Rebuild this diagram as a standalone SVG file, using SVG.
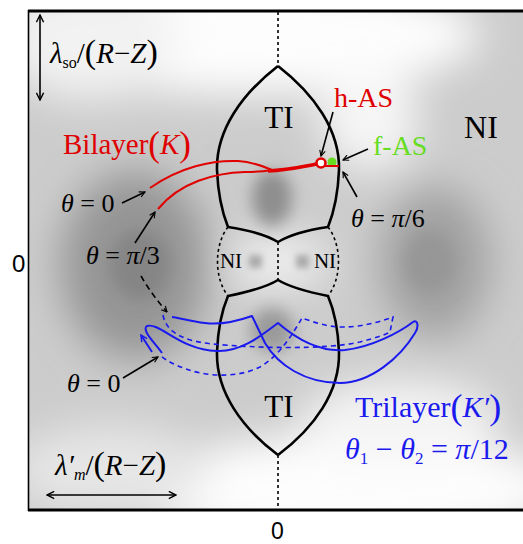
<svg xmlns="http://www.w3.org/2000/svg" width="523" height="544" viewBox="0 0 523 544">
<style>
.ser{font-family:"Liberation Serif","Times New Roman",serif;}
.sans{font-family:"Liberation Sans",Arial,sans-serif;}
.it{font-style:italic;}
.bd{fill:none;stroke:#000;stroke-width:2.6;stroke-linejoin:round;}
.dot{fill:none;stroke:#000;stroke-width:1.6;stroke-dasharray:3 3;}
.arr{fill:none;stroke:#000;stroke-width:1.6;marker-end:url(#ah);}
.red{fill:none;stroke:#e00000;stroke-width:2;}
.blue{fill:none;stroke:#1a1aee;stroke-width:2;stroke-linejoin:round;}
.bdash{fill:none;stroke:#1a1aee;stroke-width:1.6;stroke-dasharray:5 4;}
</style>
<defs>
<marker id="ah" viewBox="0 0 10 10" refX="9" refY="5" markerWidth="7" markerHeight="7" orient="auto" markerUnits="userSpaceOnUse">
<path d="M1,1 L9,5 L1,9" fill="none" stroke="#000" stroke-width="1.6"/>
</marker>
<marker id="ahs" viewBox="0 0 10 10" refX="9" refY="5" markerWidth="9" markerHeight="9" orient="auto-start-reverse" markerUnits="userSpaceOnUse">
<path d="M1,1 L9,5 L1,9" fill="none" stroke="#000" stroke-width="1.6"/>
</marker>
<marker id="ahb" viewBox="0 0 10 10" refX="9" refY="5" markerWidth="8" markerHeight="8" orient="auto" markerUnits="userSpaceOnUse">
<path d="M1,1 L9,5 L1,9" fill="none" stroke="#1a1aee" stroke-width="1.8"/>
</marker>
<filter id="bl" x="-60%" y="-60%" width="220%" height="220%"><feGaussianBlur stdDeviation="20"/></filter>
<filter id="bs" x="-60%" y="-60%" width="220%" height="220%"><feGaussianBlur stdDeviation="8"/></filter>
<filter id="bx" x="-60%" y="-60%" width="220%" height="220%"><feGaussianBlur stdDeviation="3"/></filter>
<clipPath id="cp"><rect x="28" y="10" width="495" height="500"/></clipPath>
</defs>

<g id="background" clip-path="url(#cp)">
<rect x="28" y="10" width="495" height="500" fill="#cccccc"/>
<g filter="url(#bl)">
<ellipse cx="240" cy="35" rx="240" ry="60" fill="#fdfdfd"/>
<ellipse cx="90" cy="40" rx="90" ry="60" fill="#f2f2f2"/>
<ellipse cx="350" cy="490" rx="220" ry="55" fill="#fdfdfd"/>
<ellipse cx="110" cy="470" rx="100" ry="45" fill="#e6e6e6"/>
<ellipse cx="370" cy="120" rx="50" ry="50" fill="#f6f6f6"/>
<ellipse cx="400" cy="420" rx="100" ry="40" fill="#f4f4f4"/>
<ellipse cx="135" cy="265" rx="75" ry="95" fill="#959595"/>
<ellipse cx="435" cy="262" rx="55" ry="75" fill="#a0a0a0"/>
<ellipse cx="278" cy="262" rx="50" ry="25" fill="#f2f2f2"/>
</g>
<g filter="url(#bs)">
<ellipse cx="140" cy="265" rx="30" ry="35" fill="#858585"/>
<ellipse cx="430" cy="262" rx="25" ry="30" fill="#969696"/>
<ellipse cx="272" cy="198" rx="20" ry="28" fill="#8e8e8e"/>
<ellipse cx="272" cy="330" rx="22" ry="22" fill="#9a9a9a"/>
</g>
<g filter="url(#bx)">
<rect x="249" y="255" width="13" height="13" fill="#aaa"/>
<rect x="296" y="255" width="13" height="13" fill="#aaa"/>
</g>
</g>

<g id="frame">
<line x1="28" y1="11" x2="523" y2="11" stroke="#000" stroke-width="3"/>
<line x1="28" y1="510" x2="523" y2="510" stroke="#000" stroke-width="3"/>
<line x1="28.5" y1="10" x2="28.5" y2="511" stroke="#000" stroke-width="1.6"/>
</g>

<g id="axes">
<line x1="278" y1="12" x2="278" y2="66" class="dot"/>
<line x1="278" y1="455" x2="278" y2="509" class="dot"/>
<text class="sans" x="12" y="272" font-size="24">0</text>
<text class="sans" x="271" y="539" font-size="23">0</text>
</g>

<g id="scale-bars">
<line x1="40" y1="15" x2="40" y2="100" stroke="#000" stroke-width="1.6" marker-start="url(#ahs)" marker-end="url(#ahs)"/>
<text class="ser" x="50" y="63" font-size="29"><tspan class="it">λ</tspan><tspan font-size="16" dy="5">so</tspan><tspan dy="-5">/</tspan><tspan font-size="34">(</tspan><tspan class="it">R</tspan>−<tspan class="it">Z</tspan><tspan font-size="34">)</tspan></text>
<line x1="47" y1="495" x2="176" y2="495" stroke="#000" stroke-width="1.6" marker-start="url(#ahs)" marker-end="url(#ahs)"/>
<text class="ser" x="55" y="475" font-size="29"><tspan class="it">λ′</tspan><tspan class="it" font-size="16" dy="5">m</tspan><tspan dy="-5">/</tspan><tspan font-size="34">(</tspan><tspan class="it">R</tspan>−<tspan class="it">Z</tspan><tspan font-size="34">)</tspan></text>
</g>

<g id="TI-upper">
<path class="bd" d="M278,66 C242,94 216,130 217,170 C218,195 222,212 228,227"/>
<path class="bd" d="M278,66 C314,94 340,130 339,170 C338,195 334,212 328,227"/>
<path class="bd" d="M228,227 C248,230 265,234 278,242 C291,234 308,230 328,227"/>
<text class="ser" x="279" y="128" font-size="31" text-anchor="middle">TI</text>
</g>

<g id="TI-lower">
<path class="bd" d="M278,455 C242,428 216,392 217,352 C218,327 222,310 228,296"/>
<path class="bd" d="M278,455 C314,428 340,392 339,352 C338,327 334,310 328,296"/>
<path class="bd" d="M228,296 C248,292 265,288 278,280 C291,288 308,292 328,296"/>
<text class="ser" x="279" y="417" font-size="31" text-anchor="middle">TI</text>
</g>

<g id="NI-left">
<path class="dot" d="M228,227 C214,245 214,278 228,296"/>
<text class="ser" x="231" y="268" font-size="21" text-anchor="middle">NI</text>
</g>
<g id="NI-right">
<path class="dot" d="M328,227 C342,245 342,278 328,296"/>
<line class="dot" x1="278" y1="242" x2="278" y2="280"/>
<text class="ser" x="325" y="268" font-size="21" text-anchor="middle">NI</text>
</g>
<g id="NI-outer">
<text class="ser" x="481" y="138" font-size="32" text-anchor="middle">NI</text>
</g>

<g id="bilayer">
<path class="red" d="M150,188 C180,167 212,160 238,161 C255,162 264,167 272,170"/>
<path class="red" d="M158,209 C180,182 215,173 245,172 C258,172 266,171 272,170"/>
<path fill="none" stroke="#e00000" stroke-width="3.4" d="M268,171 C290,170 305,166 317,164"/>
<circle cx="332" cy="162" r="4.5" fill="#66dd22"/>
<line x1="325" y1="166" x2="339" y2="166" stroke="#e00000" stroke-width="2"/>
<circle cx="321" cy="163" r="4.5" fill="#fff" stroke="#e00000" stroke-width="2.6"/>
<text class="ser" x="63" y="154" font-size="29" fill="#e00000">Bilayer<tspan font-size="35" dy="2">(</tspan><tspan class="it" dy="-2">K</tspan><tspan font-size="35" dy="2">)</tspan></text>
<text class="ser" x="334" y="107" font-size="28" fill="#e00000">h-AS</text>
<text class="ser" x="373" y="155" font-size="28" fill="#66dd22">f-AS</text>
</g>

<g id="trilayer">
<path class="blue" d="M162,353 C155,343 141,330 147,326 C160,322 180,350 217,351 C242,352 262,335 278,323 C300,342 322,352 345,350 C372,347 400,332 413,322 C418,319 419,327 415,333 C400,358 370,383 340,383 C305,383 278,365 265,343 L252,316 C235,322 220,325 205,323 C190,321 180,318 172,317"/>
<path class="bdash" d="M163,315 C166,333 185,341 212,344 C255,348 325,350 360,342 C375,338 385,335 390,332 L393,317 C372,325 348,329 330,326 C318,324 308,320 302,318 C292,335 280,355 260,367 C238,378 208,377 186,369 C175,365 167,361 161,356"/>
<line x1="152" y1="352" x2="141" y2="335" stroke="#1a1aee" stroke-width="2" marker-end="url(#ahb)"/>
<text class="ser" x="355" y="417" font-size="30" fill="#1a1aee">Trilayer<tspan font-size="36" dy="2">(</tspan><tspan class="it" dy="-2">K′</tspan><tspan font-size="36" dy="2">)</tspan></text>
<text class="ser" x="345" y="459" font-size="30" fill="#1a1aee"><tspan class="it">θ</tspan><tspan font-size="17" dy="5">1</tspan><tspan dy="-5"> − </tspan><tspan class="it">θ</tspan><tspan font-size="17" dy="5">2</tspan><tspan dy="-5"> = </tspan><tspan class="it">π</tspan>/12</text>
</g>

<g id="connectors">
<line class="arr" x1="122" y1="203" x2="145" y2="192"/>
<line class="arr" x1="135" y1="243" x2="155" y2="212"/>
<path class="arr" d="M141,276 Q152,295 167,312" stroke-dasharray="6 4"/>
<line class="arr" x1="123" y1="378" x2="158" y2="357"/>
<line class="arr" x1="333" y1="112" x2="321" y2="156"/>
<line class="arr" x1="368" y1="149" x2="343" y2="160"/>
<line class="arr" x1="357" y1="197" x2="343" y2="172"/>
</g>

<g id="labels">
<text class="ser" x="61" y="212" font-size="26"><tspan class="it">θ</tspan> = 0</text>
<text class="ser" x="86" y="264" font-size="26"><tspan class="it">θ</tspan> = <tspan class="it">π</tspan>/3</text>
<text class="ser" x="351" y="227" font-size="26"><tspan class="it">θ</tspan> = <tspan class="it">π</tspan>/6</text>
<text class="ser" x="67" y="392" font-size="26"><tspan class="it">θ</tspan> = 0</text>
</g>
</svg>
